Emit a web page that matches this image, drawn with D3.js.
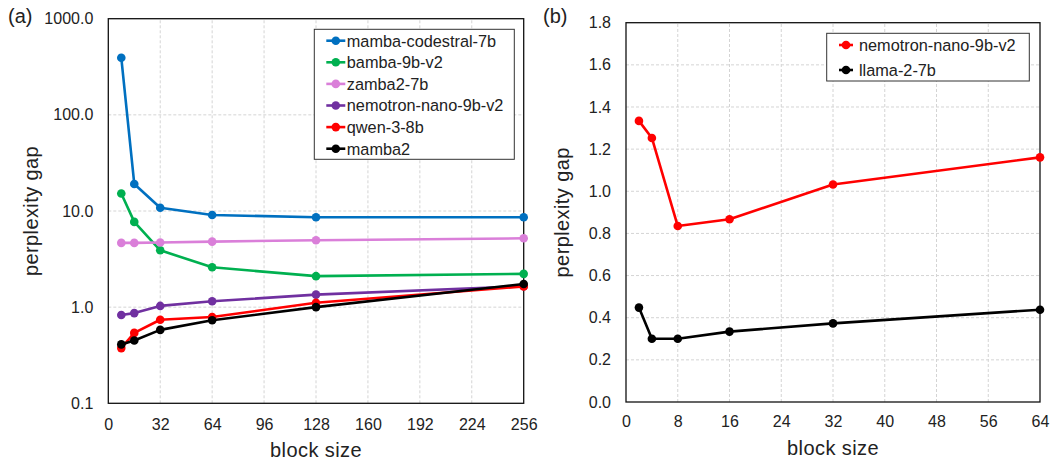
<!DOCTYPE html>
<html>
<head>
<meta charset="utf-8">
<script src="https://cdn.jsdelivr.net/npm/d3@7"></script>
<style>
  html, body { margin: 0; padding: 0; background: #fff; }
  svg { display: block; font-family: "Liberation Sans", Arial, sans-serif; }
</style>
</head>
<body>
<svg id="chart" width="1050" height="462"></svg>
<script>
// ---- Panel (a): perplexity gap vs block size (log scale) ----
const blockSizesA = [8, 16, 32, 64, 128, 256];
const seriesNamesA = ["mamba-codestral-7b", "bamba-9b-v2", "zamba2-7b", "nemotron-nano-9b-v2", "qwen-3-8b", "mamba2"];
const mambaCodestral = [393, 19.1, 10.8, 9.1, 8.6, 8.6];
const bamba = [15.2, 7.7, 3.9, 2.6, 2.1, 2.22];
const zamba2 = [4.66, 4.66, 4.7, 4.8, 4.97, 5.2];
const nemotronA = [0.83, 0.867, 1.03, 1.15, 1.35, 1.65];
const qwen = [0.375, 0.54, 0.74, 0.79, 1.11, 1.64];
const mamba2 = [0.41, 0.45, 0.58, 0.73, 1.0, 1.74];
const colorsA = ["#0070C0", "#00B050", "#DA7FD9", "#7030A0", "#FF0000", "#000000"];
const xTicksA = [0, 32, 64, 96, 128, 160, 192, 224, 256];
const yTicksA = [0.1, 1, 10, 100, 1000];

// ---- Panel (b): perplexity gap vs block size (linear scale) ----
const blockSizesB = [2, 4, 8, 16, 32, 64];
const seriesNamesB = ["nemotron-nano-9b-v2", "llama-2-7b"];
const nemotronB = [1.334, 1.253, 0.835, 0.867, 1.032, 1.161];
const llama = [0.448, 0.30, 0.30, 0.334, 0.373, 0.438];
const colorsB = ["#FF0000", "#000000"];
const xTicksB = [0, 8, 16, 24, 32, 40, 48, 56, 64];
const yTicksB = [0, 0.2, 0.4, 0.6, 0.8, 1.0, 1.2, 1.4, 1.6, 1.8];

const svg = d3.select("#chart");
const fmt = d3.format(".1f");

function drawPanel(cfg) {
  const g = svg.append("g");
  const { x, y } = cfg;
  const [x0, x1] = x.range();
  const [y0, y1] = y.range();

  // dashed grid
  g.append("g").selectAll("line").data(cfg.xTicks.filter(t => t !== x.domain()[0] && t !== x.domain()[1]))
    .join("line")
    .attr("x1", d => x(d)).attr("x2", d => x(d))
    .attr("y1", y0).attr("y2", y1)
    .attr("stroke", "#d4d4d4").attr("stroke-width", 1).attr("stroke-dasharray", "3,2");
  g.append("g").selectAll("line").data(cfg.yTicks.filter(t => t !== y.domain()[0] && t !== y.domain()[1]))
    .join("line")
    .attr("x1", x0).attr("x2", x1)
    .attr("y1", d => y(d)).attr("y2", d => y(d))
    .attr("stroke", "#d4d4d4").attr("stroke-width", 1).attr("stroke-dasharray", "3,2");

  // axes (labels only, no tick marks)
  const ax = g.append("g").attr("transform", `translate(0,${y0})`)
    .call(d3.axisBottom(x).tickValues(cfg.xTicks).tickSize(0).tickPadding(cfg.xPad).tickFormat(d3.format("d")));
  const ay = g.append("g").attr("transform", `translate(${x0},0)`)
    .call(d3.axisLeft(y).tickValues(cfg.yTicks).tickSize(0).tickPadding(15).tickFormat(fmt));
  [ax, ay].forEach(a => {
    a.select(".domain").remove();
    a.selectAll("text").attr("font-size", 16).attr("fill", "#222")
      .attr("font-family", "'Liberation Sans', Arial, sans-serif");
  });

  // plot frame
  g.append("rect").attr("x", x0).attr("y", y1).attr("width", x1 - x0).attr("height", y0 - y1)
    .attr("fill", "none").attr("stroke", "#111").attr("stroke-width", 1.3);

  // series
  const line = d3.line().x(d => x(d[0])).y(d => y(d[1]));
  cfg.series.forEach((s, i) => {
    const pts = cfg.xs.map((v, j) => [v, s[j]]);
    const sg = g.append("g");
    sg.append("path").datum(pts).attr("d", line)
      .attr("fill", "none").attr("stroke", cfg.colors[i]).attr("stroke-width", 2.6)
      .attr("stroke-linejoin", "round");
    sg.selectAll("circle").data(pts).join("circle")
      .attr("cx", d => x(d[0])).attr("cy", d => y(d[1])).attr("r", 4.3)
      .attr("fill", cfg.colors[i]);
  });

  // axis titles
  g.append("text").attr("x", (x0 + x1) / 2).attr("y", cfg.xTitleY)
    .attr("text-anchor", "middle").attr("font-size", 20).attr("letter-spacing", 0.4)
    .attr("fill", "#222").text("block size");
  g.append("text").attr("transform", `translate(${cfg.yTitleX},${(y0 + y1) / 2}) rotate(-90)`)
    .attr("text-anchor", "middle").attr("font-size", 20).attr("letter-spacing", 0.4)
    .attr("fill", "#222").text("perplexity gap");

  // panel tag
  g.append("text").attr("x", cfg.tagX).attr("y", 23).attr("font-size", 20)
    .attr("fill", "#222").text(cfg.tag);

  // legend
  const L = cfg.legend;
  const lg = g.append("g");
  lg.append("rect").attr("x", L.x).attr("y", L.y).attr("width", L.w).attr("height", L.h)
    .attr("fill", "#fff").attr("stroke", "#333").attr("stroke-width", 1);
  cfg.names.forEach((n, i) => {
    const cy = L.y + L.first + i * L.step;
    lg.append("line").attr("x1", L.x + L.lx0).attr("x2", L.x + L.lx1)
      .attr("y1", cy).attr("y2", cy).attr("stroke", cfg.colors[i]).attr("stroke-width", 2.6);
    lg.append("circle").attr("cx", L.x + (L.lx0 + L.lx1) / 2).attr("cy", cy).attr("r", 4.3)
      .attr("fill", cfg.colors[i]);
    lg.append("text").attr("x", L.x + L.tx).attr("y", cy).attr("dy", "0.36em")
      .attr("font-size", 16.3).attr("fill", "#222").text(n);
  });
}

drawPanel({
  x: d3.scaleLinear().domain([0, 256]).range([108.3, 523.7]),
  y: d3.scaleLog().domain([0.1, 1000]).range([403.3, 18.7]),
  xTicks: xTicksA, yTicks: yTicksA, xPad: 15.5,
  xs: blockSizesA,
  series: [mambaCodestral, bamba, zamba2, nemotronA, qwen, mamba2],
  names: seriesNamesA, colors: colorsA,
  xTitleY: 457, yTitleX: 38, tag: "(a)", tagX: 8,
  legend: { x: 314.3, y: 29.3, w: 200, h: 130, first: 11.4, step: 21.6, lx0: 12, lx1: 31, tx: 32.5 }
});

drawPanel({
  x: d3.scaleLinear().domain([0, 64]).range([626, 1040]),
  y: d3.scaleLinear().domain([0, 1.8]).range([402, 22.7]),
  xTicks: xTicksB, yTicks: yTicksB, xPad: 14,
  xs: blockSizesB,
  series: [nemotronB, llama],
  names: seriesNamesB, colors: colorsB,
  xTitleY: 455, yTitleX: 569, tag: "(b)", tagX: 543,
  legend: { x: 826.7, y: 33.3, w: 202.6, h: 47.7, first: 11.7, step: 25, lx0: 12.3, lx1: 26.3, tx: 32.3 }
});
</script>
</body>
</html>
